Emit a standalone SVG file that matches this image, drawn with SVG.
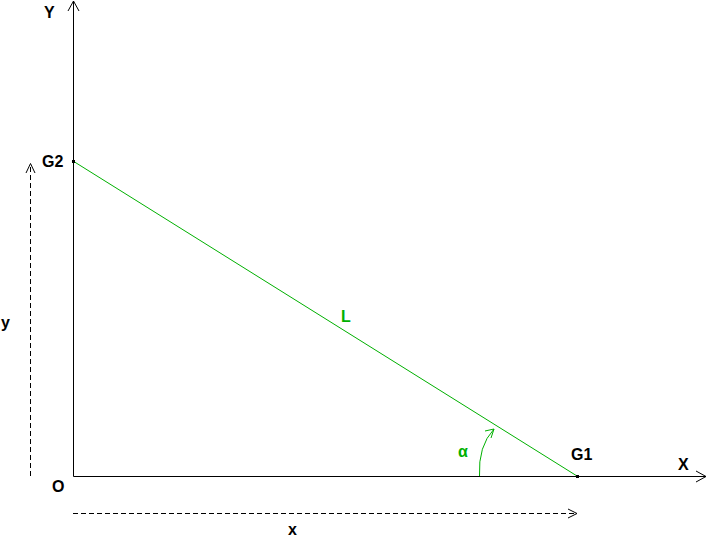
<svg xmlns="http://www.w3.org/2000/svg" width="707" height="537" viewBox="0 0 707 537">
<style>
.t{font-family:"Liberation Sans",Arial,sans-serif;font-size:16px;font-weight:bold;fill:#000}
.g{fill:#00b000}
.ax{stroke:#000;stroke-width:1;fill:none}
.ds{stroke:#000;stroke-width:1;fill:none;stroke-dasharray:5,3}
.gl{stroke:#00b000;stroke-width:1;fill:none}
</style>
<rect width="707" height="537" fill="#fff"/>
<g id="connectors">
<path class="ax" d="M73.5,476.5 V1"/>
<path class="ax" d="M68,11 L73.5,1 L79,11"/>
<path class="ax" d="M73.5,476.5 H706"/>
<path class="ax" d="M696,471 L706,476.5 L696,482"/>
<path class="ds" d="M30.5,476 V165"/>
<path class="ax" d="M26,173 L30.5,163.5 L35,173"/>
<path class="ds" d="M73,513.5 H575"/>
<path class="ax" d="M568,509 L577,513.5 L568,518"/>
<path class="gl" d="M73,161 L577,476"/>
<path class="gl" d="M479.5,476 Q478,446 494,429"/>
<path class="gl" d="M485,431 L494,429 L491,438"/>
</g>
<g id="G2"><rect x="72" y="160" width="3" height="3" fill="#000"/><text class="t" x="42" y="167">G2</text></g>
<g id="G1"><rect x="576" y="475" width="3" height="3" fill="#000"/><text class="t" x="571" y="460">G1</text></g>
<g id="O"><text class="t" x="52" y="492">O</text></g>
<g id="Ylabel"><text class="t" x="44" y="18">Y</text></g>
<g id="Xlabel"><text class="t" x="678" y="470">X</text></g>
<g id="L"><text class="t g" x="341" y="322">L</text></g>
<g id="alpha"><text class="t g" x="458" y="457">α</text></g>
<g id="xlabel"><text class="t" x="288" y="535">x</text></g>
<g id="ylabel"><text class="t" x="1" y="328">y</text></g>
</svg>
